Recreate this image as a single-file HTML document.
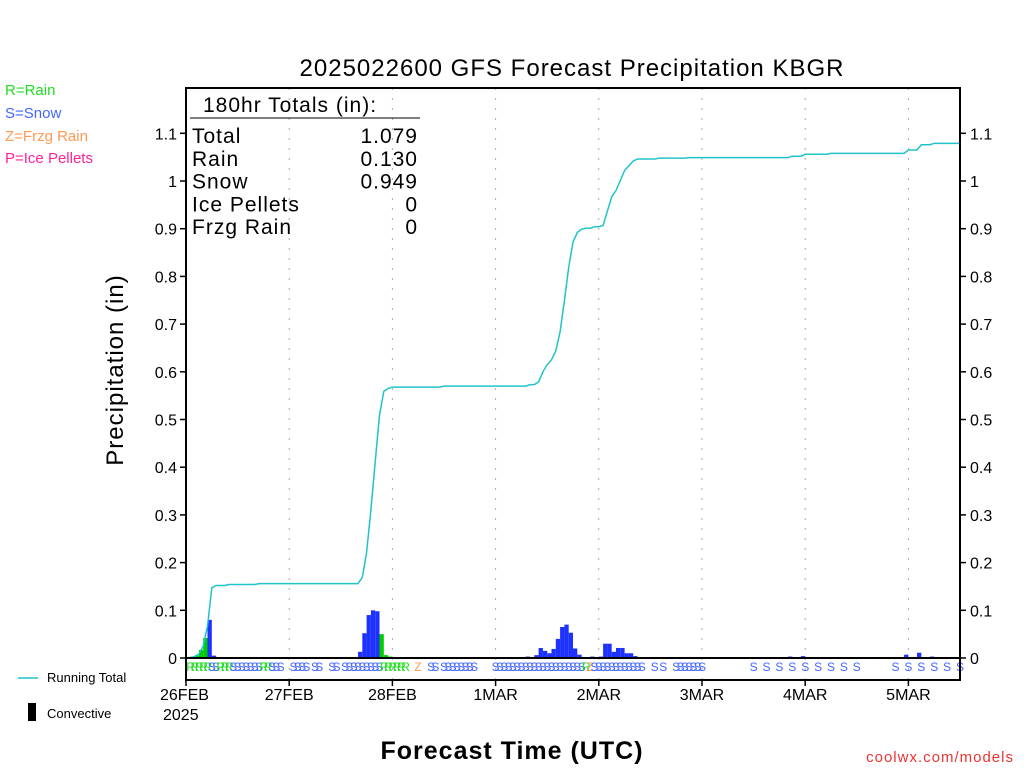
<!DOCTYPE html>
<html><head><meta charset="utf-8"><style>
body{margin:0;background:#fff;width:1024px;height:768px;overflow:hidden}
svg{font-family:"Liberation Sans",sans-serif}
</style></head><body>
<svg id="c" width="1024" height="768" xmlns="http://www.w3.org/2000/svg"></svg>
<script>
const dayLabels=["26FEB","27FEB","28FEB","1MAR","2MAR","3MAR","4MAR","5MAR"];
const yTicks=[0,0.1,0.2,0.3,0.4,0.5,0.6,0.7,0.8,0.9,1,1.1];
const yTickLabels=["0","0.1","0.2","0.3","0.4","0.5","0.6","0.7","0.8","0.9","1","1.1"];
const stepHours=[2,3,4,5,6,7,10,17,41,42,43,44,45,46,47,48,60,80,82,83,84,85,86,87,88,89,90,91,92,93,95,97,98,99,100,101,102,103,104,105,110,117,141,144,150,168,171,174];
const rainVals=[.003,.005,.017,.042,0,0,.002,0,0,0,0,0,0,.05,.006,.003,0,0,0,0,0,0,0,0,0,0,0,0,0,0,0,0,0,0,0,0,0,0,0,0,0,0,0,0,0,0,0,0];
const snowVals=[0,0,0,0,.08,.005,0,.002,.013,.052,.09,.1,.098,0,0,0,.002,.003,.006,.021,.015,.01,.019,.04,.065,.07,.053,.02,.007,.002,.003,.003,.03,.03,.013,.021,.021,.01,.01,.004,.002,.001,.003,.004,.002,.007,.011,.003];
const typeHourly="RRRRR"+"SS"+"RRR"+"SSSSSSS"+"RR"+"SSS"+"  "+"SSSS"+" "+"SS"+"  "+"SS"+" "+"SSSSSSSSS"+"RRRRRR"+"  "+"Z"+"  "+"SS"+" "+"SSSSSSSS"+"    "+"SSSSSSSSSSSSSSSSSSSSS"+"RZ"+"SSSSSSSSSSSS"+"  "+"S"+" "+"S"+"  "+"SSSSSSS";
const type3hr="   SSSSSSSSS  SSSSSS";
const totalsLabels=["Total","Rain","Snow","Ice Pellets","Frzg Rain"];
const totalsVals=["1.079","0.130","0.949","0","0"];

const NS="http://www.w3.org/2000/svg",svg=document.getElementById('c');
const L=186,R=960,T=88,B=680,Y0=658;
const x=h=>L+h*(R-L)/180, y=v=>Y0-v*477;
function mk(t,a,p){const e=document.createElementNS(NS,t);for(const k in a)e.setAttribute(k,a[k]);(p||svg).appendChild(e);return e;}
function tx(s,a){const e=mk('text',a);e.textContent=s;return e;}

// grid
dayLabels.forEach((d,i)=>{const g=mk('line',{x1:x(i*24),x2:x(i*24),y1:T,y2:B,stroke:'#aaa','stroke-dasharray':'2,8'});

const t=tx(d,{x:x(i*24)-(i==0?26:0),y:700,'font-size':16,'text-anchor':i==0?'start':'middle',fill:'#000'});

mk('line',{x1:x(i*24),x2:x(i*24),y1:B,y2:B+6,stroke:'#000','stroke-width':1.5});});
tx("2025",{x:163,y:720,'font-size':16,fill:'#000'});

// bars
stepHours.forEach((h,i)=>{let base=0;const w=(R-L)/180;
[[rainVals[i],'#00cc00'],[snowVals[i],'#1e32ff']].forEach(([v,c])=>{if(v>0){
const r=mk('rect',{x:x(h)-w,y:y(base+v),width:w,height:(y(base)-y(base+v)),fill:c});
base+=v;}});});

// running total
let cum=0,pts=[[x(0),y(0)]];stepHours.forEach((h,i)=>{pts.push([x(h-1),y(cum)]);cum+=rainVals[i]+snowVals[i];pts.push([x(h),y(cum)]);});
pts.push([x(180),y(cum)]);
const pl=mk('polyline',{points:pts.map(p=>p.join(',')).join(' '),fill:'none',stroke:'#20c4c8','stroke-width':1.5});


// type letters
const colors={R:'#22dd22',S:'#4466ff',Z:'#ff9955',P:'#ff2299'};
function letter(ch,h){if(ch===' ')return;const t=tx(ch,{x:x(h)-4,y:671,'font-size':12,fill:colors[ch]});
}
[...typeHourly].forEach((c,i)=>letter(c,i+1));
[...type3hr].forEach((c,i)=>letter(c,123+i*3));

// zero line & box
mk('line',{x1:L,x2:R,y1:Y0,y2:Y0,stroke:'#000','stroke-width':2});
const bx=mk('rect',{x:L,y:T,width:R-L,height:B-T,fill:'none',stroke:'#000','stroke-width':2});


// y ticks
yTicks.forEach((v,i)=>{mk('line',{x1:L-6,x2:L,y1:y(v),y2:y(v),stroke:'#000','stroke-width':1.5});
mk('line',{x1:R,x2:R+6,y1:y(v),y2:y(v),stroke:'#000','stroke-width':1.5});
const a=tx(yTickLabels[i],{x:L-9,y:y(v)+6,'font-size':16,'text-anchor':'end',fill:'#000'});

const b=tx(yTickLabels[i],{x:R+10,y:y(v)+6,'font-size':16,fill:'#000'});
});

// totals box
tx("180hr Totals (in):",{x:203,y:112,'font-size':21,fill:'#000','letter-spacing':1});
mk('line',{x1:190,x2:420,y1:118,y2:118,stroke:'#000'});
totalsLabels.forEach((l,i)=>{const yy=143+i*22.8;
const a=tx(l,{x:192,y:yy,'font-size':21,fill:'#000','letter-spacing':1});
const b=tx(totalsVals[i],{x:418,y:yy,'font-size':21,'text-anchor':'end',fill:'#000','letter-spacing':1});});
</script>
<svg style="position:absolute;left:0;top:0" width="1024" height="768" xmlns="http://www.w3.org/2000/svg" font-family="Liberation Sans, sans-serif">
<text x="572" y="76" font-size="24" text-anchor="middle" letter-spacing="1">2025022600 GFS Forecast Precipitation KBGR</text>
<text x="5" y="95" font-size="15" fill="#22dd22">R=Rain</text>
<text x="5" y="118" font-size="15" fill="#4466ff">S=Snow</text>
<text x="5" y="141" font-size="15" fill="#ff9955">Z=Frzg Rain</text>
<text x="5" y="163" font-size="15" fill="#ff2299">P=Ice Pellets</text>
<text transform="translate(123,370) rotate(-90)" font-size="24" text-anchor="middle" letter-spacing="1">Precipitation (in)</text>
<text x="512" y="759" font-size="25" text-anchor="middle" font-weight="bold" letter-spacing="1">Forecast Time (UTC)</text>
<line x1="18" x2="38" y1="678" y2="678" stroke="#20c4c8" stroke-width="1.5"/>
<text x="47" y="682" font-size="13">Running Total</text>
<rect x="28" y="703" width="8" height="18" fill="#000"/>
<text x="47" y="718" font-size="13">Convective</text>
<text x="1014" y="762" font-size="15" fill="#ee3333" text-anchor="end" letter-spacing="1">coolwx.com/models</text>
</svg>
</body></html>
